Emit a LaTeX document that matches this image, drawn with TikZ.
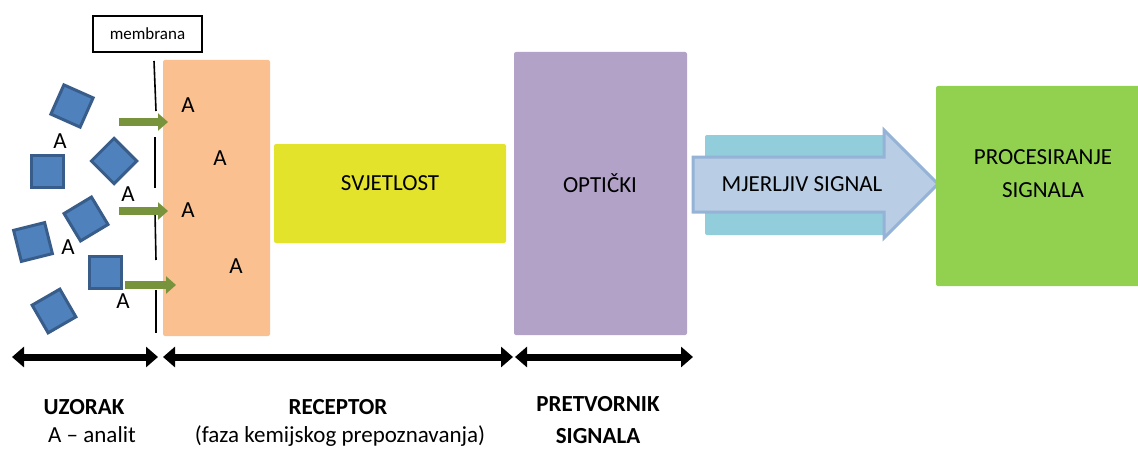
\documentclass[tikz,border=0pt]{standalone}
\usepackage{fontspec}
\setmainfont{Carlito}
\usetikzlibrary{arrows.meta}

\definecolor{peach}{HTML}{FAC090}
\definecolor{lightyellow}{HTML}{E3E32B}
\definecolor{lilac}{HTML}{B2A2C7}
\definecolor{aqua}{HTML}{92CDDC}
\definecolor{arrowfill}{HTML}{B9CDE5}
\definecolor{arrowedge}{HTML}{95B3D7}
\definecolor{procgreen}{HTML}{92D050}
\definecolor{sqblue}{HTML}{4F81BD}
\definecolor{sqedge}{HTML}{385D8A}
\definecolor{feedgreen}{HTML}{77933C}

\tikzset{
  sq/.style={draw=sqedge, fill=sqblue, line width=1.5pt, minimum size=16pt, inner sep=0pt},
  lbl/.style={font=\fontsize{11.5}{13}\selectfont, inner sep=0pt},
  box/.style={inner sep=0pt, rounded corners=1pt},
  wall/.style={line width=0.8pt},
  feed/.style={draw=feedgreen, line width=4pt, -{Triangle[width=8.5pt,length=5pt]}},
  span/.style={line width=3.5pt, {Triangle[width=10pt,length=6pt]}-{Triangle[width=10pt,length=6pt]}},
}

\begin{document}
\begin{tikzpicture}[x=0.5pt, y=-0.5pt]
\useasboundingbox (0,0) rectangle (1138,449);

% membrane
\node[draw, line width=0.75pt, minimum width=54.5pt, minimum height=18pt, inner sep=0pt, font=\fontsize{8.5}{10}\selectfont] (mem) at (147.5,34) {membrana};
\draw[wall] (154,61) -- (156,111);
\draw[wall] (155,137) -- (155,188);
\draw[wall] (155,213) -- (156,260);
\draw[wall] (156,290) -- (156,333);

% blocks
\node[box, fill=peach, minimum width=53.5pt, minimum height=138pt] (rec) at (216.5,198) {};
\node[box, fill=lightyellow, minimum width=116pt, minimum height=49.5pt] (light) at (390,193.5) {};
\node[lbl] (lighttxt) at (390,183) {SVJETLOST};
\node[box, fill=lilac, minimum width=86.5pt, minimum height=141.5pt] (opt) at (600.5,193.5) {};
\node[lbl] (opttxt) at (600,183) {OPTIČKI};
\node[box, fill=aqua, minimum width=91.5pt, minimum height=50pt] (back) at (796.5,185) {};
\draw[line width=1.5pt, draw=arrowedge, fill=arrowfill, line join=miter]
  (693,157) -- (884,157) -- (884,130) -- (938,184) -- (884,238) -- (884,212) -- (693,212) -- cycle;
\node[lbl] (sig) at (802,184) {MJERLJIV SIGNAL};
\node[box, fill=procgreen, minimum width=103pt, minimum height=100pt] (proc) at (1039,186) {};
\node[lbl, font=\fontsize{11.5}{16.5}\selectfont, align=center] (proctxt) at (1043,174) {PROCESIRANJE\\SIGNALA};

% sample
\node[sq, rotate=66] (s1) at (72,106) {};
\node[sq] (s2) at (47,171) {};
\node[sq, rotate=45] (s3) at (114,161) {};
\node[sq, rotate=31] (s4) at (86,219) {};
\node[sq, rotate=14] (s5) at (33,242) {};
\node[sq] (s6) at (105,272) {};
\node[sq, rotate=30] (s7) at (54,311) {};

\node[lbl] (a1) at (60,141) {A};
\node[lbl] (a2) at (128,194) {A};
\node[lbl] (a3) at (68,247) {A};
\node[lbl] (a4) at (123,301) {A};

\node[lbl] (r1) at (188,105) {A};
\node[lbl] (r2) at (220,158) {A};
\node[lbl] (r3) at (188,210) {A};
\node[lbl] (r4) at (236,266) {A};

\coordinate (f1) at (119,122);
\coordinate (g1) at (168,122);
\coordinate (f2) at (119,211);
\coordinate (g2) at (168,211);
\coordinate (f3) at (125,285);
\coordinate (g3) at (176,285);
\draw[feed] (f1) -- (g1);
\draw[feed] (f2) -- (g2);
\draw[feed] (f3) -- (g3);

% stages
\coordinate (uzL) at (12,357);
\coordinate (uzR) at (158,357);
\coordinate (reL) at (163,357);
\coordinate (reR) at (513,357);
\coordinate (prL) at (515,357);
\coordinate (prR) at (693,357);
\draw[span] (uzL) -- (uzR);
\draw[span] (reL) -- (reR);
\draw[span] (prL) -- (prR);

\node[lbl, font=\fontsize{11.5}{13}\selectfont\bfseries] (uz) at (84,407) {UZORAK};
\node[lbl, anchor=base] (an) at (92,442) {A – analit};
\node[lbl, font=\fontsize{11.5}{13}\selectfont\bfseries] (rc) at (338,407) {RECEPTOR};
\node[lbl, anchor=base] (faza) at (340,442) {(faza kemijskog prepoznavanja)};
\node[lbl, font=\fontsize{11.5}{13}\selectfont\bfseries] (pt) at (598,404) {PRETVORNIK};
\node[lbl, font=\fontsize{11.5}{13}\selectfont\bfseries] (sg) at (598,436) {SIGNALA};

\end{tikzpicture}
\end{document}
